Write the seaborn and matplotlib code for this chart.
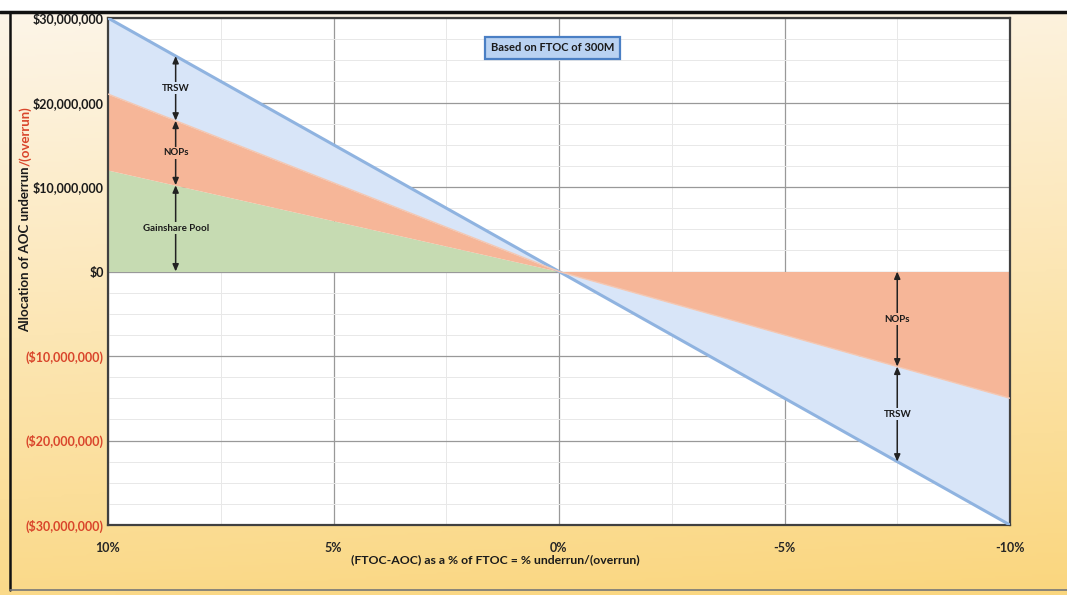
import numpy as np
import pandas as pd
import matplotlib
matplotlib.use("Agg")
import matplotlib.pyplot as plt
import seaborn as sns
from matplotlib.colors import LinearSegmentedColormap
from matplotlib.ticker import MultipleLocator

# ---------------- data ----------------
x_pct = [10, 5, 0, -5, -10]                 # (FTOC-AOC) as % of FTOC
gainshare = [12e6, 6e6, 0, 0, 0]            # Gainshare Pool
nops = [9e6, 4.5e6, 0, -7.5e6, -15e6]       # NOPs
trsw = [9e6, 4.5e6, 0, -7.5e6, -15e6]       # TRSW
y_ticks = [30e6, 20e6, 10e6, 0, -10e6, -20e6, -30e6]
x_ticks = [10, 5, 0, -5, -10]

df = pd.DataFrame({"x": x_pct, "gain": gainshare, "nops": nops, "trsw": trsw})
df["l1"] = df["gain"]
df["l2"] = df["l1"] + df["nops"]
df["l3"] = df["l2"] + df["trsw"]

FONT = ["Lato", "DejaVu Sans"]
sns.set_theme(style="white")
plt.rcParams["font.family"] = FONT

W, H = 1067, 595
fig = plt.figure(figsize=(W / 100, H / 100), dpi=100)
fig.patch.set_facecolor("white")

# background gradient
bg = fig.add_axes([0, 0, 1, 1 - 12 / H], zorder=-10)
cmap = LinearSegmentedColormap.from_list("bg", ["#fad67e", "#fce6b4", "#fdf5e8"])
gy = np.linspace(0, 1, 256)[:, None]
gx = np.linspace(0, 1, 256)[None, :]
grad = np.clip(gy * 0.85 + (1 - gx) * 0.1 + 0.05, 0, 1)
bg.imshow(grad, aspect="auto", extent=[0, 1, 0, 1], origin="lower", cmap=cmap)
bg.axis("off")

ax = fig.add_axes([108 / W, 1 - 525 / H, (1010 - 108) / W, (525 - 18) / H], zorder=1)
ax.set_facecolor("white")

c_green = "#c6dbb2"
c_orange = "#f6b698"
c_blue = "#d8e5f8"
c_blue_edge = "#8fb3e0"

ax.fill_between(df["x"], 0, df["l1"], color=c_green, lw=0, zorder=2)
ax.fill_between(df["x"], df["l1"], df["l2"], color=c_orange, lw=0, zorder=2)
ax.fill_between(df["x"], df["l2"], df["l3"], color=c_blue, lw=0, zorder=2)
sns.lineplot(data=df, x="x", y="l3", ax=ax, color=c_blue_edge, lw=2.2, zorder=3)
sns.lineplot(data=df, x="x", y="l2", ax=ax, color="#f3c8b4", lw=1.0, zorder=3)

ax.set_xlim(10, -10)
ax.set_ylim(-30e6, 30e6)
ax.set_xticks(x_ticks)
ax.set_yticks(y_ticks)
ax.xaxis.set_minor_locator(MultipleLocator(2.5))
ax.yaxis.set_minor_locator(MultipleLocator(2.5e6))
ax.grid(which="major", color="#999999", lw=0.9, zorder=1)
ax.grid(which="minor", color="#e8e8e8", lw=0.7, zorder=0.5)
ax.set_axisbelow(True)
for s in ax.spines.values():
    s.set_color("#404040")
    s.set_linewidth(1.6)
    s.set_visible(True)

def ylab(v):
    if v < 0:
        return "(${:,.0f})".format(-v)
    return "${:,.0f}".format(v)

ax.set_yticklabels([ylab(v) for v in y_ticks], fontsize=9, fontweight="bold")
for lbl, v in zip(ax.get_yticklabels(), y_ticks):
    lbl.set_color("#d9452b" if v < 0 else "#1a1a1a")
ax.set_xticklabels(["{}%".format(v) for v in x_ticks], fontsize=9, fontweight="bold")
ax.tick_params(axis="both", length=0)
ax.tick_params(axis="y", pad=3)
ax.tick_params(axis="x", pad=12)
ax.set_xlabel("")
ax.set_ylabel("")

# arrows and labels
def arrow_with_label(xv, lo, hi, text, fc):
    ax.annotate("", xy=(xv, hi), xytext=(xv, lo),
                arrowprops=dict(arrowstyle="<|-|>,head_length=0.35,head_width=0.15",
                                color="#222222", lw=1.1, shrinkA=0, shrinkB=0), zorder=5)
    ax.text(xv, (lo + hi) / 2, text, ha="center", va="center", fontsize=7,
            fontweight="bold", color="#1a1a1a", zorder=6,
            bbox=dict(boxstyle="square,pad=0.15", fc=fc, ec="none"))

xs = df["x"][::-1].values
xl = 8.5
a1 = np.interp(xl, xs, df["l1"][::-1].values)
a2 = np.interp(xl, xs, df["l2"][::-1].values)
a3 = np.interp(xl, xs, df["l3"][::-1].values)
arrow_with_label(xl, 0, a1, "Gainshare Pool", c_green)
arrow_with_label(xl, a1, a2, "NOPs", c_orange)
arrow_with_label(xl, a2, a3, "TRSW", c_blue)

xr = -7.5
b2 = np.interp(xr, xs, df["l2"][::-1].values)
b3 = np.interp(xr, xs, df["l3"][::-1].values)
arrow_with_label(xr, 0, b2, "NOPs", c_orange)
arrow_with_label(xr, b2, b3, "TRSW", c_blue)

# title box
ax.text(0.493, 0.941, "Based on FTOC of 300M", transform=ax.transAxes,
        ha="center", va="center", fontsize=8, fontweight="bold", color="#1a1a1a",
        zorder=7, bbox=dict(boxstyle="square,pad=0.5", fc="#b9d2f2", ec="#4a7fc4", lw=1.6))

# x label
fig.text(495 / W, 1 - 560 / H, "(FTOC-AOC) as a % of FTOC = % underrun/(overrun)",
         ha="center", va="center", fontsize=8.8, fontweight="bold", color="#1a1a1a")

# y label (two colours)
t1 = fig.text(25 / W, 1 - 332 / H, "Allocation of AOC underrun", rotation=90,
              ha="center", va="bottom", fontsize=9.5, fontweight="bold", color="#1a1a1a")
fig.canvas.draw()
bb = t1.get_window_extent()
fig.text(25 / W, bb.y1 / H, "/(overrun)", rotation=90, ha="center", va="bottom",
         fontsize=9.5, fontweight="bold", color="#d9452b")

# outer frame
fig.add_artist(plt.Line2D([0, 1], [1 - 12 / H, 1 - 12 / H], transform=fig.transFigure,
                          color="#111111", lw=2.5))
fig.add_artist(plt.Line2D([10 / W, 10 / W], [1 - 590 / H, 1 - 12 / H], transform=fig.transFigure,
                          color="#111111", lw=1.8))
fig.add_artist(plt.Line2D([10 / W, 1], [1 - 590 / H, 1 - 590 / H], transform=fig.transFigure,
                          color="#777777", lw=1.2))

fig.savefig("out.png", dpi=100)
